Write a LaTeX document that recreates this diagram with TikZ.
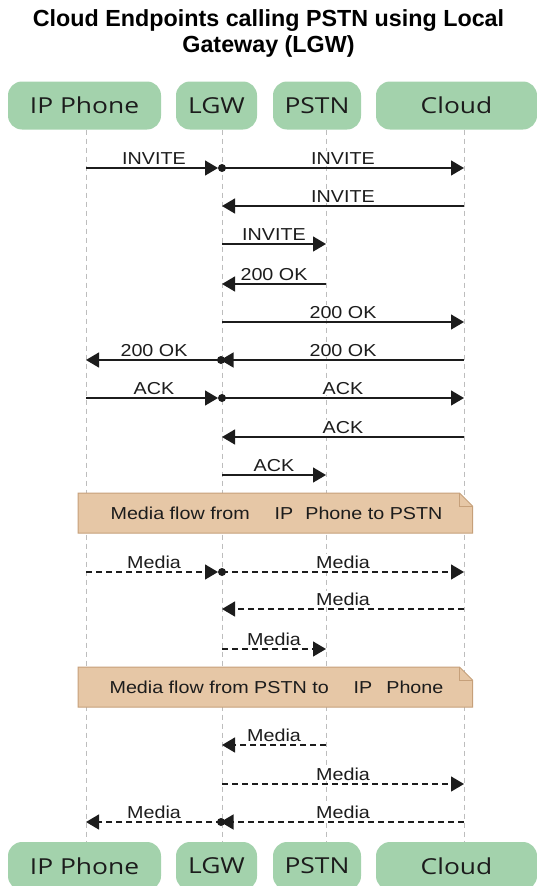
\documentclass[tikz,border=0pt]{standalone}
\usepackage{fontspec}
\usetikzlibrary{arrows.meta}
\newfontfamily\titlefont{Liberation Sans}
\newfontfamily\msgfont{Liberation Sans}[FakeStretch=1.14]
\newfontfamily\actorfont{Open Sans}[FakeStretch=1.2]
\definecolor{actorfill}{HTML}{A3D2AC}
\definecolor{notefill}{HTML}{E6C7A6}
\definecolor{notedraw}{HTML}{C6A07A}
\definecolor{lifegray}{HTML}{BDBDBD}
\definecolor{ink}{HTML}{1C1C1C}

% one message: from lifeline #1 to lifeline #2 at height #3, label #4, extra style #5
\newcommand\seqmsg[5]{%
  \draw[msgline,#5] (#1 |- 0,#3) -- node[msglabel]{#4} (#2 |- 0,#3);}

\begin{document}
\begin{tikzpicture}[x=1pt,y=-1pt,
  actor/.style={fill=actorfill, rounded corners=14pt, inner sep=0pt,
    minimum height=48pt, font=\actorfont\fontsize{22}{25}\selectfont, text=ink},
  lifeline/.style={draw=lifegray, line width=1pt, dash pattern=on 5pt off 4pt},
  msgline/.style={draw=ink, line width=1.35pt, -{Triangle[length=13pt,width=15pt]}},
  media/.style={dash pattern=on 6pt off 4pt},
  msglabel/.style={midway, anchor=base, yshift=4pt, fill=white, inner sep=1pt,
    font=\msgfont\fontsize{17.3}{20}\selectfont, text=ink},
  relaydot/.style={circle, fill=ink, inner sep=0pt, minimum size=8pt},
  notebox/.style={fill=notefill, draw=notedraw, line width=1pt},
  notetext/.style={font=\msgfont\fontsize{17.3}{20}\selectfont, text=ink, inner sep=0pt},
  titletext/.style={font=\titlefont\bfseries\fontsize{23.3}{27}\selectfont, text=black, anchor=base}
]
\useasboundingbox (0,0) rectangle (537,886);
\clip (0,0) rectangle (537,886);

% title
\node[titletext] (title1) at (268.5,27) {Cloud Endpoints calling PSTN using Local};
\node[titletext] (title2) at (268.5,52.5) {Gateway (LGW)};

% lifeline positions
\coordinate (ip)   at (86,0);
\coordinate (lgw)  at (222,0);
\coordinate (pstn) at (326,0);
\coordinate (cld)  at (464,0);

% participants, top and bottom
\node[actor, minimum width=153pt] (ipT)   at (84.5,105.5) {IP Phone};
\node[actor, minimum width=81pt]  (lgwT)  at (216.5,105.5) {LGW};
\node[actor, minimum width=88pt]  (pstnT) at (317,105.5) {PSTN};
\node[actor, minimum width=161pt] (cldT)  at (456.5,105.5) {Cloud};
\node[actor, minimum width=153pt] (ipB)   at (84.5,866) {IP Phone};
\node[actor, minimum width=81pt]  (lgwB)  at (216.5,866) {LGW};
\node[actor, minimum width=88pt]  (pstnB) at (317,866) {PSTN};
\node[actor, minimum width=161pt] (cldB)  at (456.5,866) {Cloud};

% lifelines
\draw[lifeline] (ip |- ipT.south) -- (ip |- ipB.north);
\draw[lifeline] (lgw |- lgwT.south) -- (lgw |- lgwB.north);
\draw[lifeline] (pstn |- pstnT.south) -- (pstn |- pstnB.north);
\draw[lifeline] (cld |- cldT.south) -- (cld |- cldB.north);

% signalling
\seqmsg{ip}{lgw}{168}{INVITE}{shorten >=4pt}
\seqmsg{lgw}{cld}{168}{INVITE}{}
\node[relaydot] (d1) at (lgw |- 0,168) {};
\seqmsg{cld}{lgw}{206}{INVITE}{}
\seqmsg{lgw}{pstn}{244}{INVITE}{}
\seqmsg{pstn}{lgw}{284}{200 OK}{}
\seqmsg{lgw}{cld}{322}{200 OK}{}
\seqmsg{cld}{lgw}{360}{200 OK}{shorten >=-1.5pt}
\seqmsg{lgw}{ip}{360}{200 OK}{}
\node[relaydot] (d2) at (221,360) {};
\seqmsg{ip}{lgw}{398}{ACK}{shorten >=4pt}
\seqmsg{lgw}{cld}{398}{ACK}{}
\node[relaydot] (d3) at (lgw |- 0,398) {};
\seqmsg{cld}{lgw}{437}{ACK}{}
\seqmsg{lgw}{pstn}{475}{ACK}{}

% first note, folded top-right corner
\coordinate (n1a) at (78,493);
\coordinate (n1b) at (472.5,533);
\path[notebox] (n1a) -- ([xshift=-13pt]n1a -| n1b) coordinate (n1f)
  -- ([yshift=-13pt]n1a -| n1b) coordinate (n1g) -- (n1b) -- (n1a |- n1b) -- cycle;
\draw[notebox, fill=none] (n1f) |- (n1g);
\node[notetext, anchor=base] (note1) at (276.5,519.5)
  {Media flow from\hspace{25pt}IP\hspace{12pt}Phone to PSTN};

% media, phone to PSTN
\seqmsg{ip}{lgw}{572}{Media}{media, shorten >=4pt}
\seqmsg{lgw}{cld}{572}{Media}{media}
\node[relaydot] (d4) at (lgw |- 0,572) {};
\seqmsg{cld}{lgw}{609}{Media}{media}
\seqmsg{lgw}{pstn}{649}{Media}{media}

% second note, folded top-right corner
\coordinate (n2a) at (78,667);
\coordinate (n2b) at (472.5,707);
\path[notebox] (n2a) -- ([xshift=-13pt]n2a -| n2b) coordinate (n2f)
  -- ([yshift=-13pt]n2a -| n2b) coordinate (n2g) -- (n2b) -- (n2a |- n2b) -- cycle;
\draw[notebox, fill=none] (n2f) |- (n2g);
\node[notetext, anchor=base] (note2) at (276.5,693.5)
  {Media flow from PSTN to\hspace{25pt}IP\hspace{14pt}Phone};

% media, PSTN to phone
\seqmsg{pstn}{lgw}{745}{Media}{media}
\seqmsg{lgw}{cld}{784}{Media}{media}
\seqmsg{cld}{lgw}{822}{Media}{media, shorten >=-1.5pt}
\seqmsg{lgw}{ip}{822}{Media}{media}
\node[relaydot] (d5) at (221,822) {};
\end{tikzpicture}
\end{document}
